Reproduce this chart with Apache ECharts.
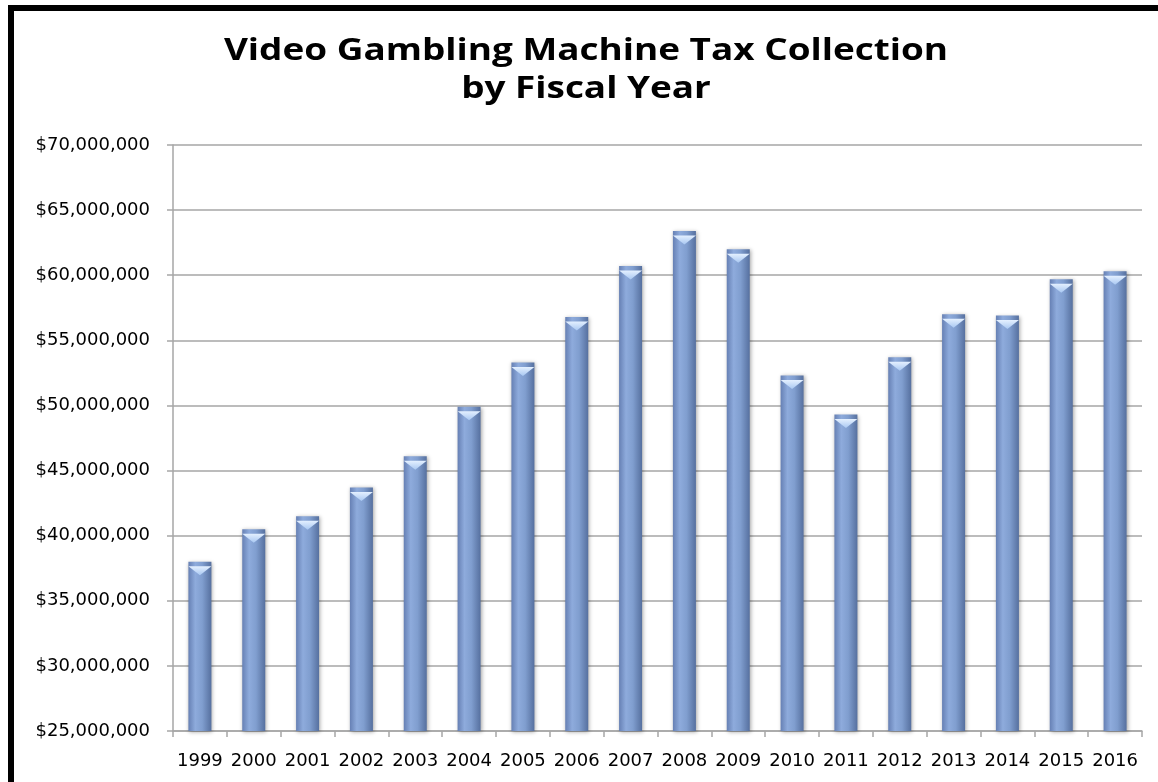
<!DOCTYPE html>
<html>
<head>
<meta charset="utf-8">
<script src="https://cdn.jsdelivr.net/npm/echarts@6/dist/echarts.min.js"></script>
<style>
html,body{margin:0;padding:0;background:#fff;overflow:hidden;width:1158px;height:782px;}
#chart{position:absolute;left:0;top:0;width:1158px;height:782px;}
</style>
</head>
<body>
<div id="chart"></div>
<script>
const titleText = 'Video Gambling Machine Tax Collection\nby Fiscal Year';
const years = ['1999','2000','2001','2002','2003','2004','2005','2006','2007','2008','2009','2010','2011','2012','2013','2014','2015','2016'];
const collections = [38.0, 40.5, 41.5, 43.7, 46.1, 49.9, 53.3, 56.8, 60.7, 63.4, 62.0, 52.3, 49.3, 53.7, 57.0, 56.9, 59.7, 60.3].map(v => v * 1e6);
const yMin = 25000000, yMax = 70000000, yStep = 5000000;

const labelFont = '"DejaVu Sans", "Open Sans", sans-serif';
const chart = echarts.init(document.getElementById('chart'), null, {renderer: 'canvas'});
chart.setOption({
  animation: false,
  backgroundColor: '#fff',
  graphic: [
    {type: 'rect', left: 8, top: 5, shape: {width: 6, height: 777}, style: {fill: '#000'}, z: 100},
    {type: 'rect', left: 8, top: 5, shape: {width: 1150, height: 6}, style: {fill: '#000'}, z: 100},
    {
      type: 'text', x: 586, y: 32, scaleX: 1.19, z: 100,
      style: {
        text: titleText, fill: '#000', align: 'center', verticalAlign: 'top',
        fontFamily: 'Open Sans', fontWeight: 'bold', fontSize: 31, lineHeight: 38
      }
    }
  ],
  grid: {left: 173, right: 16, top: 145, bottom: 51, containLabel: false},
  xAxis: {
    type: 'category',
    data: years,
    axisLine: {lineStyle: {color: '#a6a6a6', width: 1.5}},
    axisTick: {show: true, length: 6, lineStyle: {color: '#a6a6a6', width: 1.5}},
    axisLabel: {fontFamily: labelFont, fontSize: 18, color: '#000', margin: 21, interval: 0}
  },
  yAxis: {
    type: 'value',
    min: yMin, max: yMax, interval: yStep,
    axisLine: {show: true, lineStyle: {color: '#a6a6a6', width: 1.5}},
    axisTick: {show: true, length: 6, lineStyle: {color: '#a6a6a6', width: 1.5}},
    splitLine: {lineStyle: {color: '#a6a6a6', width: 1.5}},
    axisLabel: {
      fontFamily: labelFont, fontSize: 18, color: '#000', margin: 23,
      formatter: v => '$' + v.toLocaleString('en-US')
    }
  },
  series: [
    {
      type: 'bar',
      data: collections,
      barWidth: 23,
      itemStyle: {
        color: new echarts.graphic.LinearGradient(0, 0, 1, 0, [
          {offset: 0, color: '#6680b4'},
          {offset: 0.3, color: '#8eabdc'},
          {offset: 0.6, color: '#809ecf'},
          {offset: 1, color: '#56709f'}
        ]),
        shadowColor: 'rgba(0,0,0,0.35)',
        shadowBlur: 4,
        shadowOffsetX: 1,
        shadowOffsetY: 1
      },
      z: 2
    },
    {
      type: 'pictorialBar',
      data: collections,
      symbol: 'path://M0,0 L10,0 L5,4 Z',
      symbolSize: [23, 9],
      symbolPosition: 'end',
      symbolOffset: [0, '50%'],
      barGap: '-100%',
      itemStyle: {
        color: new echarts.graphic.LinearGradient(0, 0, 0, 1, [
          {offset: 0, color: '#e4f0ff'},
          {offset: 1, color: '#a9c8f2'}
        ])
      },
      z: 3,
      silent: true
    }
  ]
});
</script>
</body>
</html>
